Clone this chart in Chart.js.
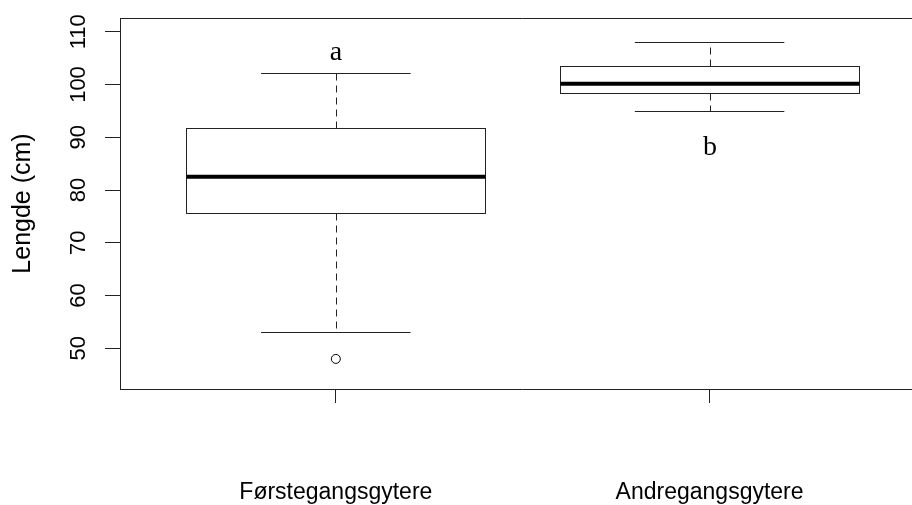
<!DOCTYPE html>
<html>
<head>
<meta charset="utf-8">
<script src="https://cdn.jsdelivr.net/npm/chart.js@4.4.1/dist/chart.umd.min.js"></script>
<style>
    html, body { margin: 0; padding: 0; background: #fff; overflow: hidden; }
    #wrap { width: 930px; height: 505px; }
</style>
</head>
<body>
<div id="wrap"><canvas id="myChart" width="930" height="505"></canvas></div>
<script>
(function () {
    "use strict";

    // Groups and their five-number summaries
    const groups = ['Førstegangsgytere', 'Andregangsgytere'];
    const groupPos = [1, 2];
    const whiskerLow = [53.1, 95.0];
    const quart1 = [75.7, 98.4];
    const medians = [82.5, 100.15];
    const quart3 = [91.8, 103.5];
    const whiskerHigh = [102.1, 108.05];
    const outliers = [{ x: 1, y: 48.0 }];

    // Significance letters above / below the boxes
    const sigLetters = ['a', 'b'];
    const sigY = [104.6, 86.6];

    const yTicks = [50, 60, 70, 80, 90, 100, 110];

    const ink = '#222';

    // Draws the boxes, medians, whiskers, frame and rotated y labels
    const boxPlot = {
        id: 'boxPlot',
        beforeDatasetsDraw(chart) {
            const c = chart.ctx;
            const xs = chart.scales.x;
            const ys = chart.scales.y;
            const a = chart.chartArea;
            c.save();

            // frame (top and right; left/bottom come from the axes)
            c.strokeStyle = ink;
            c.lineWidth = 1;
            c.beginPath();
            c.moveTo(a.left, a.top + 0.5);
            c.lineTo(a.right + 0.5, a.top + 0.5);
            c.lineTo(a.right + 0.5, a.bottom);
            c.stroke();

            groupPos.forEach(function (p, i) {
                const xc = Math.round(xs.getPixelForValue(p));
                const bx0 = Math.round(xs.getPixelForValue(p - 0.4)) + 0.5;
                const bx1 = Math.round(xs.getPixelForValue(p + 0.4)) + 0.5;
                const cx0 = xs.getPixelForValue(p - 0.2);
                const cx1 = xs.getPixelForValue(p + 0.2);
                const yLo = Math.round(ys.getPixelForValue(whiskerLow[i])) + 0.5;
                const yQ1 = Math.round(ys.getPixelForValue(quart1[i])) + 0.5;
                const yMd = ys.getPixelForValue(medians[i]);
                const yQ3 = Math.round(ys.getPixelForValue(quart3[i])) + 0.5;
                const yHi = Math.round(ys.getPixelForValue(whiskerHigh[i])) + 0.5;

                // dashed whiskers
                c.strokeStyle = ink;
                c.lineWidth = 1;
                c.setLineDash([7, 5]);
                c.beginPath();
                c.moveTo(xc + 0.5, yQ3);
                c.lineTo(xc + 0.5, yHi);
                c.moveTo(xc + 0.5, yQ1);
                c.lineTo(xc + 0.5, yLo);
                c.stroke();
                c.setLineDash([]);

                // staples
                c.beginPath();
                c.moveTo(cx0, yHi);
                c.lineTo(cx1, yHi);
                c.moveTo(cx0, yLo);
                c.lineTo(cx1, yLo);
                c.stroke();

                // box
                c.fillStyle = '#fff';
                c.fillRect(bx0, yQ3, bx1 - bx0, yQ1 - yQ3);
                c.strokeRect(bx0, yQ3, bx1 - bx0, yQ1 - yQ3);

                // median
                c.strokeStyle = '#000';
                c.lineWidth = 4;
                c.beginPath();
                c.moveTo(bx0, yMd);
                c.lineTo(bx1, yMd);
                c.stroke();

                // letter
                c.fillStyle = '#000';
                c.font = '28px "Liberation Serif", "Times New Roman", serif';
                c.textAlign = 'center';
                c.textBaseline = 'alphabetic';
                c.fillText(sigLetters[i], xc, ys.getPixelForValue(sigY[i]));
            });

            // rotated y tick labels
            c.fillStyle = '#000';
            c.font = '22px "Liberation Sans", Arial, sans-serif';
            c.textAlign = 'center';
            c.textBaseline = 'middle';
            ys.ticks.forEach(function (t) {
                c.save();
                c.translate(79, ys.getPixelForValue(t.value));
                c.rotate(-Math.PI / 2);
                c.fillText(String(t.value), 0, 0);
                c.restore();
            });

            c.restore();
        }
    };

    let ctx = document.getElementById('myChart').getContext('2d');
    let chart = new Chart(ctx, {
        type: 'scatter',
        data: {
            datasets: [
                {
                    label: 'Uteliggere',
                    data: outliers,
                    pointRadius: 4.5,
                    pointBorderWidth: 1,
                    pointBackgroundColor: '#fff',
                    pointBorderColor: '#000'
                }
            ]
        },
        options: {
            responsive: false,
            animation: false,
            layout: { padding: { top: 18, right: 5, left: 0, bottom: 0 } },
            plugins: {
                legend: { display: false },
                tooltip: { enabled: false }
            },
            scales: {
                x: {
                    type: 'linear',
                    min: 0.4225,
                    max: 2.575,
                    afterBuildTicks: function (s) {
                        s.ticks = groupPos.map(function (v) { return { value: v }; });
                    },
                    afterFit: function (s) { s.height = 116; },
                    grid: {
                        display: true,
                        drawOnChartArea: false,
                        drawTicks: true,
                        tickLength: 14,
                        color: ink
                    },
                    border: { display: true, color: ink, width: 1 },
                    ticks: {
                        padding: 76,
                        maxRotation: 0,
                        autoSkip: false,
                        color: '#000',
                        font: { family: '"Liberation Sans", Arial, sans-serif', size: 23 },
                        callback: function (v) {
                            const i = groupPos.indexOf(v);
                            return i >= 0 ? groups[i] : '';
                        }
                    }
                },
                y: {
                    type: 'linear',
                    min: 42.3,
                    max: 112.6,
                    afterBuildTicks: function (s) {
                        s.ticks = yTicks.map(function (v) { return { value: v }; });
                    },
                    afterFit: function (s) { s.width = 120; },
                    grid: {
                        display: true,
                        drawOnChartArea: false,
                        drawTicks: true,
                        tickLength: 15,
                        color: ink
                    },
                    border: { display: true, color: ink, width: 1 },
                    ticks: { display: false },
                    title: {
                        display: true,
                        text: 'Lengde (cm)',
                        color: '#000',
                        padding: { top: 8, bottom: 0 },
                        font: { family: '"Liberation Sans", Arial, sans-serif', size: 25 }
                    }
                }
            }
        },
        plugins: [boxPlot]
    });
})();
</script>
</body>
</html>
